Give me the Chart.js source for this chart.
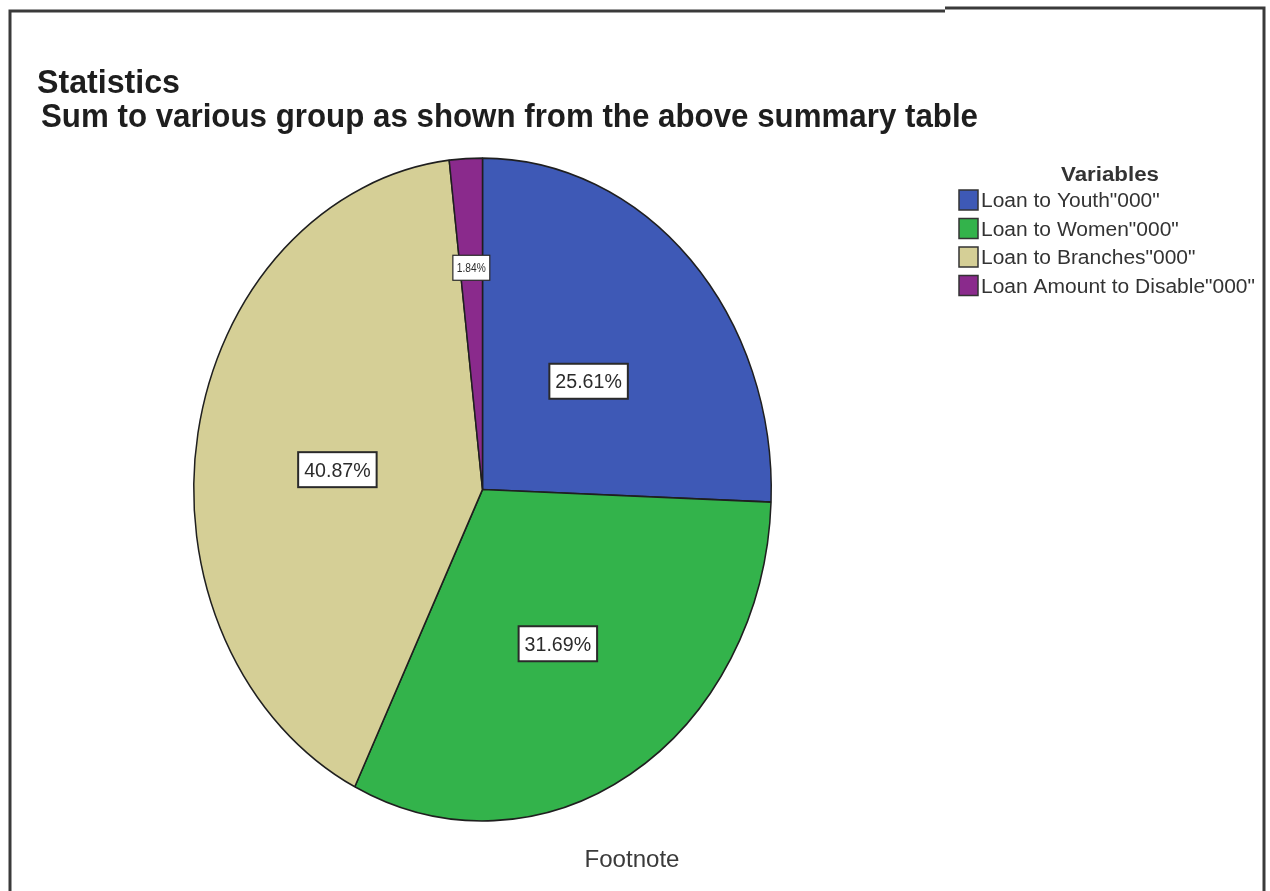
<!DOCTYPE html>
<html>
<head>
<meta charset="utf-8">
<script src="https://cdn.jsdelivr.net/npm/chart.js@4.4.1/dist/chart.umd.min.js"></script>
<style>
  body { margin: 0; background: #fff; }
  #wrap { width: 1270px; height: 891px; position: relative; }
</style>
</head>
<body>
<div id="wrap"><canvas id="pie-chart" width="1270" height="891"></canvas></div>
<script>
// Chart data
const categories = ['Loan to Youth"000"', 'Loan to Women"000"', 'Loan to Branches"000"', 'Loan Amount to Disable"000"'];
const shares = [25.61, 31.69, 40.87, 1.84];
const sliceColors = ['#3e59b6', '#33b34b', '#d5cf96', '#8a2a8c'];
const titleText = 'Statistics';
const subtitleText = 'Sum to various group as shown from the above summary table';
const legendTitle = 'Variables';
const footnoteText = 'Footnote';

// the original picture is squeezed sideways, so the pie is an ellipse
const stretchY = 1.148;
const squeeze = 0.87;

// draw text with a horizontal scale; fitWidth forces a width if given
function drawText(ctx, text, x, y, font, align, color, fitWidth, sxIn) {
    ctx.save();
    ctx.font = font;
    ctx.fillStyle = color;
    ctx.textBaseline = 'alphabetic';
    let sx = sxIn || squeeze;
    if (fitWidth) sx = fitWidth / ctx.measureText(text).width;
    const w = ctx.measureText(text).width * sx;
    let left = x;
    if (align === 'center') left = x - w / 2;
    ctx.translate(left, y);
    ctx.scale(sx, 1);
    ctx.textAlign = 'left';
    ctx.fillText(text, 0, 0);
    ctx.restore();
    return w;
}

// stretch the pie vertically
const ellipsePlugin = {
    id: 'ellipse',
    beforeDatasetsDraw(chart) {
        const arc = chart.getDatasetMeta(0).data[0];
        const ctx = chart.ctx;
        ctx.save();
        ctx.translate(arc.x, arc.y);
        ctx.scale(1, stretchY);
        ctx.translate(-arc.x, -arc.y);
    },
    afterDatasetsDraw(chart) {
        chart.ctx.restore();
    }
};

// boxed percentage labels inside slices
const boxLabels = {
    id: 'boxLabels',
    afterDatasetsDraw(chart) {
        const ctx = chart.ctx;
        chart.getDatasetMeta(0).data.forEach((arc, i) => {
            const value = shares[i];
            const small = value < 5;
            const mid = (arc.startAngle + arc.endAngle) / 2;
            const f = small ? 0.67 : 0.51;
            const x = arc.x + Math.cos(mid) * arc.outerRadius * f;
            const y = arc.y + Math.sin(mid) * arc.outerRadius * f * stretchY + (small ? 0 : 9);
            const text = value.toFixed(2) + '%';
            const size = small ? 12 : 20;
            const font = size + 'px "Liberation Sans", Arial, sans-serif';
            ctx.save();
            ctx.font = font;
            const sx = small ? 0.85 : 0.98;
            const w = ctx.measureText(text).width * sx;
            const bw = w + (small ? 8 : 12);
            const bh = small ? 25 : 35;
            ctx.fillStyle = '#ffffff';
            ctx.fillRect(x - bw / 2, y - bh / 2, bw, bh);
            ctx.strokeStyle = '#2a2a2a';
            ctx.lineWidth = small ? 1.2 : 2;
            ctx.strokeRect(x - bw / 2, y - bh / 2, bw, bh);
            ctx.restore();
            drawText(ctx, text, x, y + size * 0.36, font, 'center', '#2b2b2b', null, sx);
        });
    }
};

// frame, titles, legend and footnote
const decorations = {
    id: 'decorations',
    afterDraw(chart) {
        const ctx = chart.ctx;
        ctx.save();
        ctx.strokeStyle = '#3a3a3a';
        ctx.lineWidth = 3;
        ctx.beginPath();
        ctx.moveTo(10, 891); ctx.lineTo(10, 11); ctx.lineTo(945, 11);
        ctx.moveTo(945, 8); ctx.lineTo(1264, 8); ctx.lineTo(1264, 891);
        ctx.stroke();
        ctx.restore();

        drawText(ctx, titleText, 37, 93, 'bold 34px "Liberation Sans", Arial, sans-serif', 'left', '#1e1e1e', 143);
        drawText(ctx, subtitleText, 41, 127, 'bold 34px "Liberation Sans", Arial, sans-serif', 'left', '#1e1e1e', 937);

        drawText(ctx, legendTitle, 1110, 181, 'bold 20px "Liberation Sans", Arial, sans-serif', 'center', '#333', 98);

        // all legend rows share the scale that fits the longest row
        const itemFont = '20px "Liberation Sans", Arial, sans-serif';
        ctx.save();
        ctx.font = itemFont;
        const longest = Math.max(...categories.map(c => ctx.measureText(c).width));
        ctx.restore();
        const itemScale = 274 / longest;
        categories.forEach((label, i) => {
            const cy = 200 + i * 28.5;
            ctx.save();
            ctx.fillStyle = sliceColors[i];
            ctx.fillRect(959, cy - 10, 19, 20);
            ctx.strokeStyle = '#333';
            ctx.lineWidth = 1.5;
            ctx.strokeRect(959, cy - 10, 19, 20);
            ctx.restore();
            drawText(ctx, label, 981, cy + 7, itemFont, 'left', '#333', null, itemScale);
        });

        drawText(ctx, footnoteText, 632, 867, '24px "Liberation Sans", Arial, sans-serif', 'center', '#3a3a3a', 95);
    }
};

const ctx = document.getElementById('pie-chart').getContext('2d');
const pieChart = new Chart(ctx, {
    type: 'pie',
    data: {
        labels: categories,
        datasets: [{
            data: shares,
            backgroundColor: sliceColors,
            borderColor: '#1f1f1f',
            borderWidth: 1.5
        }]
    },
    options: {
        responsive: false,
        animation: false,
        layout: {
            padding: { left: 193, right: 498, top: 200, bottom: 112 }
        },
        plugins: {
            legend: { display: false },
            title: { display: false },
            tooltip: { enabled: false }
        }
    },
    plugins: [ellipsePlugin, boxLabels, decorations]
});
</script>
</body>
</html>
